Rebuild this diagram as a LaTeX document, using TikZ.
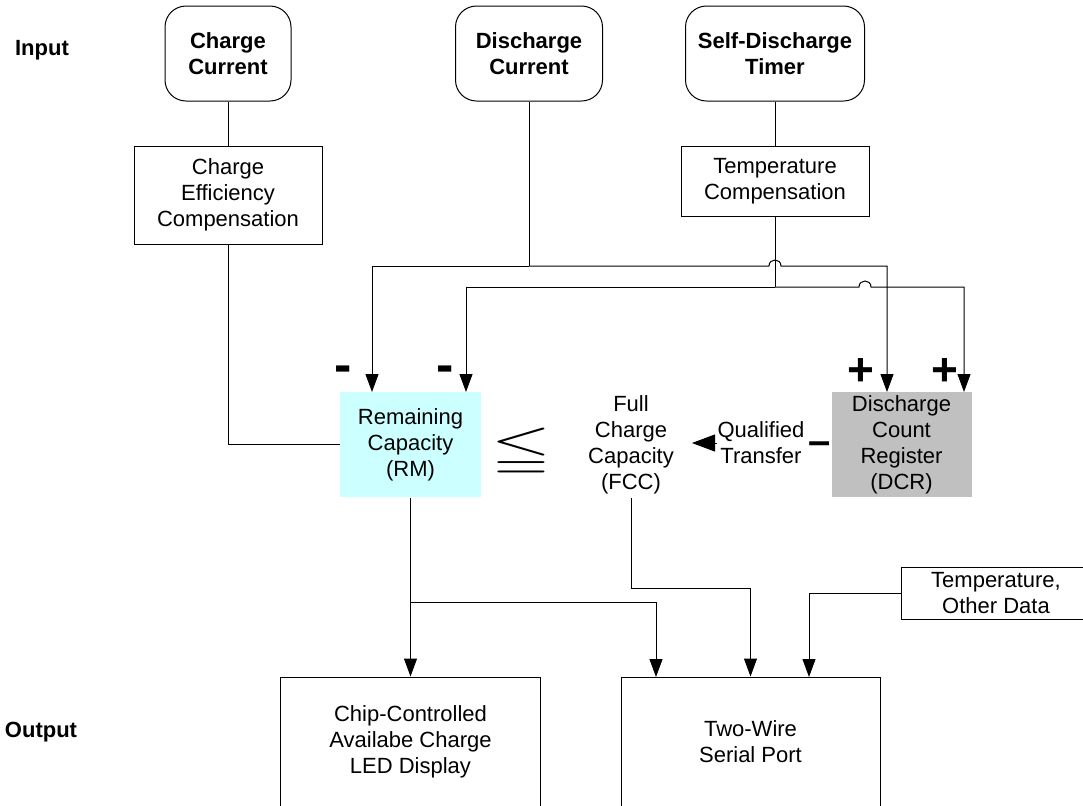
\documentclass[tikz,border=0pt]{standalone}
\usepackage{amssymb}
\usepackage{fontspec}
\setmainfont{Liberation Sans}
\usetikzlibrary{arrows.meta}

\definecolor{rmcyan}{RGB}{204,255,255}
\definecolor{dcrgray}{RGB}{192,192,192}

\tikzset{
  inbox/.style={draw, rounded corners=10.5pt, align=center, inner sep=0pt,
    minimum height=47.5pt, font=\bfseries\fontsize{11}{12.75}\selectfont},
  blk/.style={draw, align=center, inner sep=0pt},
  reg/.style={align=center, inner sep=0pt, minimum width=70.5pt, minimum height=52.5pt},
  arr/.style={-{Triangle[length=9pt,width=6.5pt]}},
  sgn/.style={font=\bfseries\fontsize{#1}{#1}\selectfont, inner sep=0pt, anchor=base},
}

\begin{document}
\begin{tikzpicture}[x=0.5pt, y=-0.5pt, line width=0.5pt, font=\fontsize{11}{13}\selectfont]

\useasboundingbox (0,0) rectangle (1083,805);
\clip (0,0) rectangle (1083,805);

\node[font=\bfseries\fontsize{11}{13}\selectfont] (in) at (42,50) {Input};
\node[font=\bfseries\fontsize{11}{13}\selectfont] (out) at (41,732) {Output};

% inputs
\node[inbox, minimum width=63pt] (chgcur) at (228,53.5) {Charge\\Current};
\node[inbox, minimum width=73.5pt] (dischcur) at (529,53.5) {Discharge\\Current};
\node[inbox, minimum width=89.5pt] (selftimer) at (775,53.5) {Self-Discharge\\Timer};

\node[blk, minimum width=94pt, minimum height=49pt] (chgeff) at (228,195) {Charge\\Efficiency\\Compensation};
\node[blk, minimum width=94pt, minimum height=35pt] (tempcomp) at (775,181) {Temperature\\Compensation};

% registers
\node[reg, fill=rmcyan] (rm) at (410.5,444.5) {Remaining\\Capacity\\(RM)};
\node[xscale=3.5, yscale=2.2] (leq) at (521,452) {$\leqq$};
\node[align=center, inner sep=0pt, minimum height=52.5pt] (fcc) at (631,444.5) {Full\\Charge\\Capacity\\(FCC)};
\node[align=center, inner sep=0pt] (qt) at (761,443) {Qualified\\Transfer};
\node[reg, minimum width=70pt, fill=dcrgray] (dcr) at (901.5,444.5) {Discharge\\Count\\Register\\(DCR)};

\node[sgn=26] (m1) at (343,382) {-};
\node[sgn=26] (m2) at (445,382) {-};
\node[sgn=23] (p1) at (861,385) {+};
\node[sgn=23] (p2) at (945,385) {+};
\node[sgn=20] (m3) at (819.5,454) {–};

% outputs
\node[blk, minimum width=95pt, minimum height=26pt] (tod) at (996,593) {Temperature,\\Other Data};
\node[blk, minimum width=130pt, minimum height=65pt] (led) at (410.5,742) {Chip-Controlled\\Availabe Charge\\LED Display};
\node[blk, minimum width=129.5pt, minimum height=65pt] (tw) at (750.5,742) {Two-Wire\\Serial Port};

\coordinate (j1) at (529,266);
\coordinate (j2) at (775,287);
\coordinate (j3) at (410.5,602);
\coordinate (j4) at (631,588);
\coordinate (rmin1) at (372,392);
\coordinate (rmin2) at (466,392);
\coordinate (dcrin1) at (887,392);
\coordinate (dcrin2) at (964,392);
\coordinate (twin1) at (656,677);
\coordinate (twin2) at (809,677);
\coordinate (fcctip) at (692,443);

\draw (chgcur) -- (chgeff);
\draw (chgeff.south) |- (rm.west);
\draw (selftimer) -- (tempcomp);

\draw (dischcur) -- (j1);
\draw[arr] (j1) -| (rmin1);
\draw[arr] (j1) -- (769,266) .. controls (769,258) and (781,258) .. (781,266) -| (dcrin1);

\draw (tempcomp) -- (j2);
\draw[arr] (j2) -| (rmin2);
\draw[arr] (j2) -- (859,287) .. controls (859,279) and (871,279) .. (871,287) -| (dcrin2);

\draw[-{Triangle[length=11.5pt,width=8.5pt]}] (qt) -- (fcctip);

\draw (rm) -- (j3);
\draw[arr] (j3) -- (led);
\draw[arr] (j3) -| (twin1);
\draw (fcc.south) -- (j4);
\draw[arr] (j4) -| (tw.north);
\draw[arr] (tod) -| (twin2);

\end{tikzpicture}
\end{document}
